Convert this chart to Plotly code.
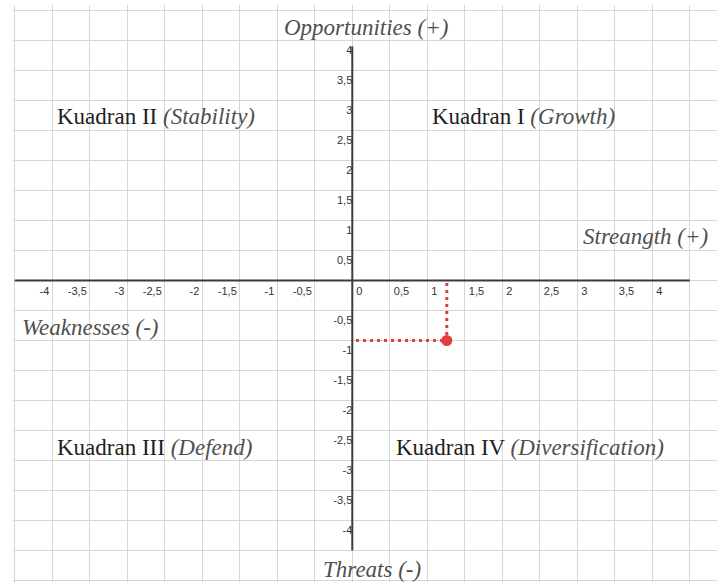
import plotly.graph_objects as go

# ---------------- data ----------------
point_x = [1.26]          # Strength - Weakness score
point_y = [-1.0]          # Opportunity - Threat score

x_ticks_neg = [-4, -3.5, -3, -2.5, -2, -1.5, -1, -0.5]
x_text_neg = ["-4", "-3,5", "-3", "-2,5", "-2", "-1,5", "-1", "-0,5"]
x_ticks_pos = [0, 0.5, 1, 1.5, 2, 2.5, 3, 3.5, 4]
x_text_pos = ["0", "0,5", "1", "1,5", "2", "2,5", "3", "3,5", "4"]
y_ticks = [4, 3.5, 3, 2.5, 2, 1.5, 1, 0.5, -0.5, -1, -1.5, -2, -2.5, -3, -3.5, -4]
y_text = ["4", "3,5", "3", "2,5", "2", "1,5", "1", "0,5",
          "-0,5", "-1", "-1,5", "-2", "-2,5", "-3", "-3,5", "-4"]

x_axis_extent = [-4.5, 4.5]
y_axis_extent = [3.9, -4.5]

quadrant_names = ["Kuadran I", "Kuadran II", "Kuadran III", "Kuadran IV"]
quadrant_tags = ["(Growth)", "(Stability)", "(Defend)", "(Diversification)"]
axis_names = ["Opportunities (+)", "Threats (-)", "Streangth (+)", "Weaknesses (-)"]

# ---------------- layout constants ----------------
W, H = 717, 582
X_RANGE = [-4.524, 4.863]
Y_RANGE = [-5.025, 4.592]
pos_y0 = (0 - Y_RANGE[0]) / (Y_RANGE[1] - Y_RANGE[0])
pos_x0 = (0 - X_RANGE[0]) / (X_RANGE[1] - X_RANGE[0])

RED = "#e53b3b"
AXIS = "#3c3c3c"
GRID = "#d6d6d6"
SERIF = "Liberation Serif, Times New Roman, serif"
SANS = "Liberation Sans, Arial, sans-serif"
tickfont = dict(family=SANS, size=11, color="#333333")

fig = go.Figure()

# axis lines
fig.add_trace(go.Scatter(x=x_axis_extent, y=[0, 0], mode="lines",
                         line=dict(color=AXIS, width=2), hoverinfo="skip",
                         showlegend=False, xaxis="x2", yaxis="y"))
fig.add_trace(go.Scatter(x=[0, 0], y=y_axis_extent, mode="lines",
                         line=dict(color=AXIS, width=2), hoverinfo="skip",
                         showlegend=False, xaxis="x", yaxis="y2"))
fig.add_trace(go.Scatter(x=[None], y=[None], mode="markers", hoverinfo="skip",
                         showlegend=False, xaxis="x3", yaxis="y"))

# dotted guides to the point
fig.add_trace(go.Scatter(x=[0.05, point_x[0]], y=[point_y[0], point_y[0]], mode="lines",
                         line=dict(color=RED, width=3, dash="3px,4px"),
                         hoverinfo="skip", showlegend=False))
fig.add_trace(go.Scatter(x=[point_x[0], point_x[0]], y=[-0.04, point_y[0]], mode="lines",
                         line=dict(color=RED, width=3, dash="3px,4px"),
                         hoverinfo="skip", showlegend=False))
# point
fig.add_trace(go.Scatter(x=point_x, y=point_y, mode="markers",
                         marker=dict(color=RED, size=11), showlegend=False))

grid_axis = dict(range=X_RANGE, tickmode="linear", tick0=0, dtick=0.5,
                 showgrid=True, gridcolor=GRID, gridwidth=1, showticklabels=False,
                 zeroline=False, showline=False, ticks="", automargin=False, fixedrange=True)

fig.update_layout(
    width=W, height=H,
    margin=dict(l=13, r=0, t=5, b=0),
    paper_bgcolor="white", plot_bgcolor="white",
    template="none",
    showlegend=False,
    xaxis=grid_axis,
    yaxis=dict(grid_axis, range=Y_RANGE),
    xaxis2=dict(overlaying="x", anchor="free", position=pos_y0, range=X_RANGE,
                tickmode="array", tickvals=x_ticks_neg, ticktext=x_text_neg,
                ticklabelposition="outside left", ticklabelshift=-3, ticklabelstandoff=2,
                ticks="", showgrid=False,
                zeroline=False, showline=False, tickfont=tickfont, automargin=False),
    xaxis3=dict(overlaying="x", anchor="free", position=pos_y0, range=X_RANGE,
                tickmode="array", tickvals=x_ticks_pos, ticktext=x_text_pos,
                ticklabelposition="outside right", ticklabelshift=4, ticklabelstandoff=2,
                ticks="", showgrid=False,
                zeroline=False, showline=False, tickfont=tickfont, automargin=False),
    yaxis2=dict(overlaying="y", anchor="free", position=pos_x0, range=Y_RANGE,
                tickmode="array", tickvals=y_ticks, ticktext=y_text,
                ticklabelshift=10, ticks="", showgrid=False, side="left",
                zeroline=False, showline=False, tickfont=tickfont, automargin=False),
)

REG = "#1e1e1e"
ITA = "#4f4f4f"
FS = 23


def label(name, tag):
    return f"<span style='color:{REG}'>{name} </span><i><span style='color:{ITA}'>{tag}</span></i>"


texts = [
    (label(quadrant_names[0], quadrant_tags[0]), 1.04, 2.73),
    (label(quadrant_names[1], quadrant_tags[1]), -3.964, 2.73),
    (label(quadrant_names[2], quadrant_tags[2]), -3.964, -2.79),
    (label(quadrant_names[3], quadrant_tags[3]), 0.555, -2.79),
    (f"<i>{axis_names[0]}</i>", -0.935, 4.21),
    (f"<i>{axis_names[1]}</i>", -0.42, -4.82),
    (f"<i>{axis_names[2]}</i>", 3.05, 0.74),
    (f"<i>{axis_names[3]}</i>", -4.43, -0.79),
]
for t, x, y in texts:
    fig.add_annotation(text=t, x=x, y=y, xref="x", yref="y", xanchor="left",
                       yanchor="middle", showarrow=False,
                       font=dict(family=SERIF, size=FS, color=ITA))

fig.write_html("out.html", config={"displayModeBar": False},
               post_script="document.body.style.margin='0';document.body.style.overflow='hidden';")
